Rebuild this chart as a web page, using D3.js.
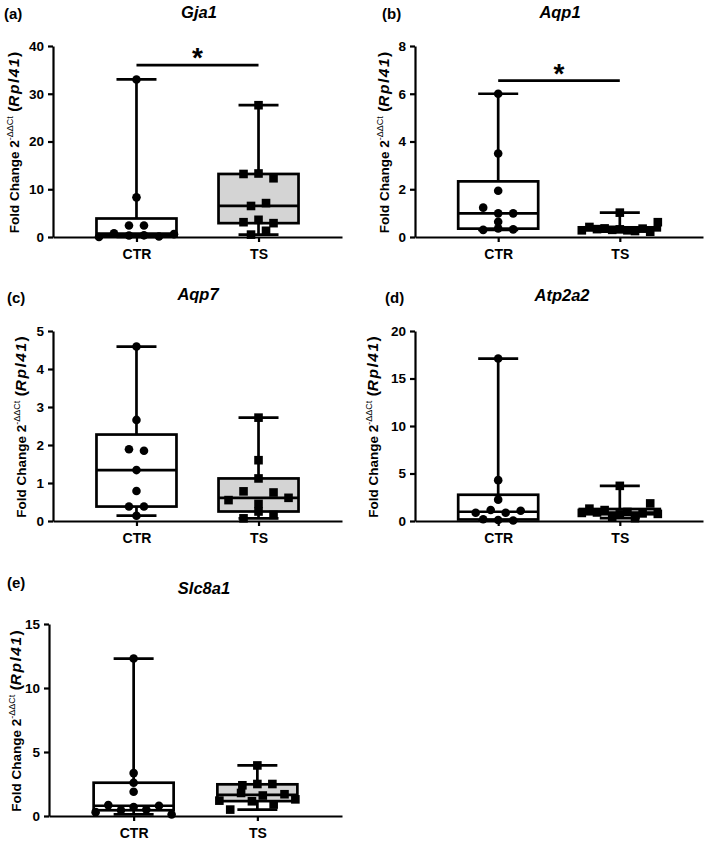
<!DOCTYPE html>
<html><head><meta charset="utf-8">
<script src="https://cdn.jsdelivr.net/npm/d3@7"></script>
<style>
body{margin:0;background:#fff}
svg{display:block}
text{font-family:"Liberation Sans",Arial,Helvetica,sans-serif;font-weight:bold;fill:#000}
</style>
</head><body>
<svg id="chart" width="709" height="842"></svg>
<script>
// ---------- data ----------
const panelLetters = ["(a)", "(b)", "(c)", "(d)", "(e)"];
const genes = ["Gja1", "Aqp1", "Aqp7", "Atp2a2", "Slc8a1"];
const groups = ["CTR", "TS"];
const yMax = [40, 8, 5, 20, 15];
const yTicks = [
  [0, 10, 20, 30, 40],
  [0, 2, 4, 6, 8],
  [0, 1, 2, 3, 4, 5],
  [0, 5, 10, 15, 20],
  [0, 5, 10, 15]
];
const sigBarLevel = [36, 6.55, null, null, null];

const gja1_CTR = [0.0, 0.8, 0.3, 0.35, 0.1, 0.6, 2.4, 2.4, 8.3, 33.0];
const gja1_TS = [0.5, 1.3, 3.1, 3.6, 2.9, 6.5, 7.1, 13.2, 13.3, 12.3, 27.6];
const aqp1_CTR = [0.3, 0.36, 0.32, 0.64, 1.23, 0.99, 0.99, 1.94, 3.5, 6.0];
const aqp1_TS = [0.28, 0.42, 0.33, 0.36, 0.3, 0.32, 0.28, 0.25, 0.35, 0.22, 0.62, 1.02];
const aqp7_CTR = [0.14, 0.38, 0.38, 0.79, 1.34, 1.89, 1.85, 2.66, 4.59];
const aqp7_TS = [0.07, 0.25, 0.16, 0.55, 0.78, 0.45, 0.75, 0.61, 1.12, 1.6, 2.72];
const atp2a2_CTR = [0.18, 0.1, 0.05, 0.87, 1.16, 0.87, 1.08, 2.25, 4.3, 17.1];
const atp2a2_TS = [0.85, 1.3, 0.9, 1.15, 0.45, 0.7, 0.95, 0.3, 0.8, 1.85, 0.75, 3.7];
const slc8a1_CTR = [0.3, 0.85, 0.45, 0.7, 0.5, 0.8, 0.12, 1.9, 2.6, 3.35, 12.3];
const slc8a1_TS = [1.2, 0.5, 1.8, 1.15, 1.6, 0.9, 1.7, 1.3, 2.4, 2.5, 2.5, 3.95];

const seriesByPanel = [
  [gja1_CTR, gja1_TS],
  [aqp1_CTR, aqp1_TS],
  [aqp7_CTR, aqp7_TS],
  [atp2a2_CTR, atp2a2_TS],
  [slc8a1_CTR, slc8a1_TS]
];

// ---------- layout ----------
const layout = [
  {axisX: 53,  y0: 237, yTop: 46,  xEnd: 342, labelX: 19,  letterX: 4,   letterY: 19,  titleX: 199, titleY: 18},
  {axisX: 415, y0: 237, yTop: 46,  xEnd: 703, labelX: 389, letterX: 382, letterY: 19,  titleX: 560, titleY: 18},
  {axisX: 53,  y0: 521, yTop: 331, xEnd: 342, labelX: 26,  letterX: 7,   letterY: 303, titleX: 198, titleY: 300},
  {axisX: 415, y0: 521, yTop: 331, xEnd: 703, labelX: 378, letterX: 385, letterY: 303, titleX: 562, titleY: 301},
  {axisX: 49,  y0: 816, yTop: 624, xEnd: 342, labelX: 21,  letterX: 7,   letterY: 588, titleX: 204, titleY: 594}
];
const boxW = 80, capHalf = 20, markR = 4.3, markSq = 8.6;
const boxFill = ["#ffffff", "#d4d4d4"];
const lw = 2.7;

// GraphPad-style quantile (n+1 method)
function gq(sorted, p) {
  const n = sorted.length;
  let pos = p * (n + 1);
  pos = Math.max(1, Math.min(n, pos));
  const lo = Math.floor(pos), f = pos - lo;
  if (lo >= n) return sorted[n - 1];
  return sorted[lo - 1] + f * (sorted[lo] - sorted[lo - 1]);
}

// horizontal spreading of points into rows
function spread(vals, y) {
  const idx = vals.map((v, i) => i).sort((a, b) => vals[a] - vals[b]);
  const rows = [];
  let cur = [idx[0]];
  for (let k = 1; k < idx.length; k++) {
    if (y(vals[idx[k - 1]]) - y(vals[idx[k]]) <= 6) cur.push(idx[k]);
    else { rows.push(cur); cur = [idx[k]]; }
  }
  rows.push(cur);
  const off = new Array(vals.length).fill(0);
  rows.forEach(r => {
    r.sort((a, b) => a - b);
    const m = r.length;
    const s = m > 1 ? Math.min(15, 76 / (m - 1)) : 0;
    r.forEach((i, j) => off[i] = (j - (m - 1) / 2) * s);
  });
  return off;
}

const svg = d3.select("#chart");

layout.forEach((L, p) => {
  const g = svg.append("g");
  const y = d3.scaleLinear().domain([0, yMax[p]]).range([L.y0, L.yTop]);
  const x = d3.scalePoint().domain(groups).range([L.axisX, L.xEnd]).padding(0.684);

  // panel letter and title
  g.append("text").attr("x", L.letterX).attr("y", L.letterY)
    .attr("font-size", 15).text(panelLetters[p]);
  g.append("text").attr("x", L.titleX).attr("y", L.titleY)
    .attr("text-anchor", "middle").attr("font-size", 16.5)
    .attr("font-style", "italic").text(genes[p]);

  // y-axis title
  const yl = g.append("text")
    .attr("transform", `translate(${L.labelX},${(L.y0 + L.yTop) / 2 + 1}) rotate(-90)`)
    .attr("text-anchor", "middle").attr("font-size", 13.5);
  yl.append("tspan").text("Fold Change 2");
  yl.append("tspan").attr("font-size", 9).attr("font-weight", "normal").attr("dy", -6).text("-\u0394\u0394Ct");
  yl.append("tspan").attr("dy", 6).attr("font-size", 15.5).text(" (");
  yl.append("tspan").attr("font-size", 15.5).attr("letter-spacing", 1.5).attr("font-style", "italic").text("Rpl41");
  yl.append("tspan").attr("font-size", 15.5).text(")");

  // boxes
  seriesByPanel[p].forEach((vals, gi) => {
    const s = vals.slice().sort(d3.ascending);
    const q1 = gq(s, 0.25), med = d3.median(s), q3 = gq(s, 0.75);
    const mn = s[0], mx = s[s.length - 1];
    const cx = x(groups[gi]);
    const bg = g.append("g").attr("stroke", "#000").attr("stroke-width", lw).attr("fill", "none");
    // whiskers
    bg.append("line").attr("x1", cx).attr("x2", cx).attr("y1", y(q3)).attr("y2", y(mx));
    bg.append("line").attr("x1", cx).attr("x2", cx).attr("y1", y(q1)).attr("y2", y(mn));
    bg.append("line").attr("x1", cx - capHalf).attr("x2", cx + capHalf).attr("y1", y(mx)).attr("y2", y(mx));
    bg.append("line").attr("x1", cx - capHalf).attr("x2", cx + capHalf).attr("y1", y(mn)).attr("y2", y(mn));
    // box
    bg.append("rect").attr("x", cx - boxW / 2).attr("width", boxW)
      .attr("y", y(q3)).attr("height", Math.max(0, y(q1) - y(q3)))
      .attr("fill", boxFill[gi]);
    bg.append("line").attr("x1", cx - boxW / 2).attr("x2", cx + boxW / 2).attr("y1", y(med)).attr("y2", y(med));

    // points
    const off = spread(vals, y);
    const pg = g.append("g").attr("fill", "#000");
    vals.forEach((v, i) => {
      if (gi === 0) {
        pg.append("circle").attr("cx", cx + off[i]).attr("cy", y(v)).attr("r", markR);
      } else {
        pg.append("rect").attr("x", cx + off[i] - markSq / 2).attr("y", y(v) - markSq / 2)
          .attr("width", markSq).attr("height", markSq);
      }
    });
  });

  // y axis
  const ya = g.append("g").attr("transform", `translate(${L.axisX},0)`)
    .call(d3.axisLeft(y).tickValues(yTicks[p]).tickFormat(d3.format("d"))
      .tickSize(5).tickSizeOuter(0).tickPadding(4));
  ya.select(".domain").attr("stroke-width", 2.2);
  ya.selectAll(".tick line").attr("stroke-width", 2.2);
  ya.selectAll(".tick text").attr("font-size", 13.5).attr("font-family", null).attr("font-weight", "bold");

  // x axis
  const xa = g.append("g").attr("transform", `translate(0,${L.y0})`)
    .call(d3.axisBottom(x).tickSize(5).tickSizeOuter(0).tickPadding(7));
  xa.select(".domain").attr("stroke-width", 2.2);
  xa.selectAll(".tick line").attr("stroke-width", 2.2);
  xa.selectAll(".tick text").attr("font-size", 14).attr("font-family", null).attr("font-weight", "bold");

  // significance bar
  if (sigBarLevel[p] !== null) {
    const yy = y(sigBarLevel[p]);
    g.append("line").attr("x1", x(groups[0])).attr("x2", x(groups[1]))
      .attr("y1", yy).attr("y2", yy).attr("stroke", "#000").attr("stroke-width", lw);
    g.append("text").attr("x", (x(groups[0]) + x(groups[1])) / 2).attr("y", yy + 2)
      .attr("text-anchor", "middle").attr("font-size", 28).text("*");
  }
});
</script>
</body></html>
